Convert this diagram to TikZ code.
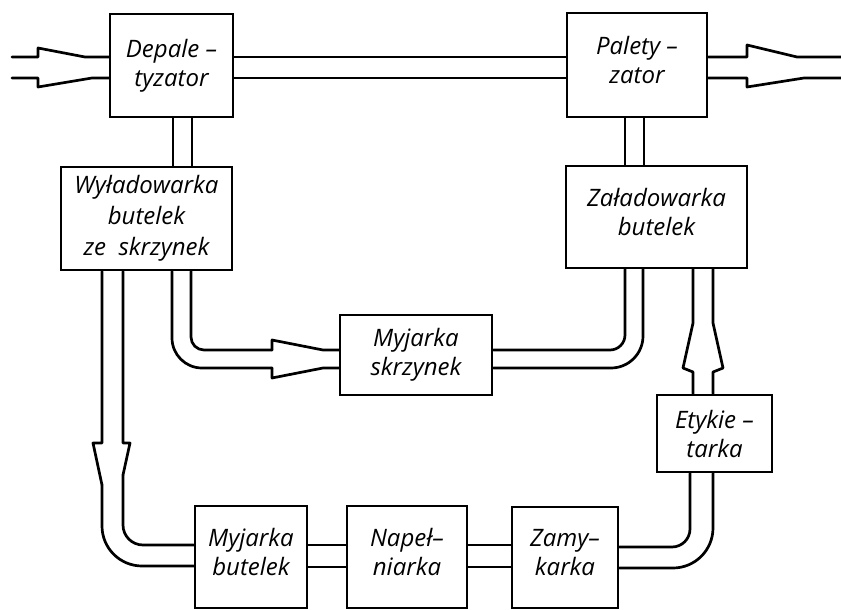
\documentclass[tikz,border=0pt]{standalone}
\usepackage{fontspec}
\setmainfont{Open Sans}
\begin{document}
\begin{tikzpicture}[x=1pt,y=-1pt]
\tikzset{
  box/.style={draw, line width=2.7pt, inner sep=0pt, align=center,
    font=\itshape\fontsize{24}{29}\selectfont},
  chan/.style={line width=2.7pt, line cap=round, line join=round},
}
\useasboundingbox (0,0) rectangle (841,610);
% boxes
\node[box, minimum width=123pt, minimum height=103pt] (dep) at (171.5,65.5) {Depale –\\tyzator};
\node[box, minimum width=140pt, minimum height=104pt] (pal) at (637,65) {Palety –\\zator\\[-19pt]\mbox{}};
\node[box, minimum width=171pt, minimum height=103pt] (wyl) at (146.5,218.5) {Wyładowarka\\[2pt]butelek\\[2pt]ze\ \ skrzynek};
\node[box, minimum width=181pt, minimum height=102pt] (zal) at (656.5,217) {Załadowarka\\butelek\\[-19pt]\mbox{}};
\node[box, minimum width=152pt, minimum height=80pt] (mys) at (416,355) {Myjarka\\skrzynek};
\node[box, minimum width=112pt, minimum height=102pt] (myb) at (251,557) {Myjarka\\butelek\\[-19pt]\mbox{}};
\node[box, minimum width=120pt, minimum height=102pt] (nap) at (407,557) {Napeł–\\niarka\\[-19pt]\mbox{}};
\node[box, minimum width=106pt, minimum height=101pt] (zam) at (565,557.5) {Zamy–\\karka\\[-19pt]\mbox{}};
\node[box, minimum width=115pt, minimum height=77pt] (ety) at (714.5,433.5) {Etykie –\\tarka};
% input arrow
\coordinate (inA) at (12,57);
\coordinate (inB) at (12,78);
\draw[chan] (inA) -- (38,57) -- (38,48) -- (85,57) -- (dep.west |- 0,57);
\draw[chan] (inB) -- (38,78) -- (38,87) -- (92,78) -- (dep.west |- 0,78);
% dep -> pal
\draw[chan] (dep.east |- 0,57) -- (pal.west |- 0,57);
\draw[chan] (dep.east |- 0,78) -- (pal.west |- 0,78);
% output arrow
\coordinate (outA) at (841,57);
\coordinate (outB) at (841,78);
\draw[chan] (pal.east |- 0,57) -- (747,57) -- (747,45) -- (797,57) -- (outA);
\draw[chan] (pal.east |- 0,78) -- (747,78) -- (747,87) -- (804,78) -- (outB);
% dep -> wyl
\draw[chan] (dep.south -| 173,0) -- (wyl.north -| 173,0);
\draw[chan] (dep.south -| 192,0) -- (wyl.north -| 192,0);
% pal -> zal
\draw[chan] (pal.south -| 625,0) -- (zal.north -| 625,0);
\draw[chan] (pal.south -| 644,0) -- (zal.north -| 644,0);
% wyl -> myb (left channel with arrow)
\draw[chan] (wyl.south -| 102,0) -- (102,443) -- (93,443) -- (102,485);
\draw[chan, rounded corners=40pt] (102,485) -- (102,566) -- (myb.west |- 0,566);
\draw[chan] (wyl.south -| 123,0) -- (123,443) -- (130,443) -- (123,475);
\draw[chan, rounded corners=20pt] (123,475) -- (123,545) -- (myb.west |- 0,545);
% wyl -> mys
\draw[chan, rounded corners=30pt] (wyl.south -| 172,0) -- (172,368) -- (272,368);
\draw[chan] (272,368) -- (272,378) -- (323,368) -- (mys.west |- 0,368);
\draw[chan, rounded corners=13pt] (wyl.south -| 191,0) -- (191,350) -- (272,350);
\draw[chan] (272,350) -- (272,340) -- (323,350) -- (mys.west |- 0,350);
% mys -> zal
\draw[chan, rounded corners=15pt] (mys.east |- 0,350) -- (625,350) -- (zal.south -| 625,0);
\draw[chan, rounded corners=32pt] (mys.east |- 0,368) -- (643,368) -- (zal.south -| 643,0);
% myb -> nap -> zam
\draw[chan] (myb.east |- 0,545) -- (nap.west |- 0,545);
\draw[chan] (myb.east |- 0,567) -- (nap.west |- 0,567);
\draw[chan] (nap.east |- 0,545) -- (zam.west |- 0,545);
\draw[chan] (nap.east |- 0,567) -- (zam.west |- 0,567);
% zam -> ety
\draw[chan, rounded corners=18pt] (zam.east |- 0,547) -- (690,547) -- (ety.south -| 690,0);
\draw[chan, rounded corners=40pt] (zam.east |- 0,568) -- (713,568) -- (ety.south -| 713,0);
% ety -> zal (arrow up)
\draw[chan] (ety.north -| 693,0) -- (693,372) -- (683,368) -- (693,323) -- (zal.south -| 693,0);
\draw[chan] (ety.north -| 713,0) -- (713,372) -- (723,368) -- (713,323) -- (zal.south -| 713,0);
\end{tikzpicture}
\end{document}
